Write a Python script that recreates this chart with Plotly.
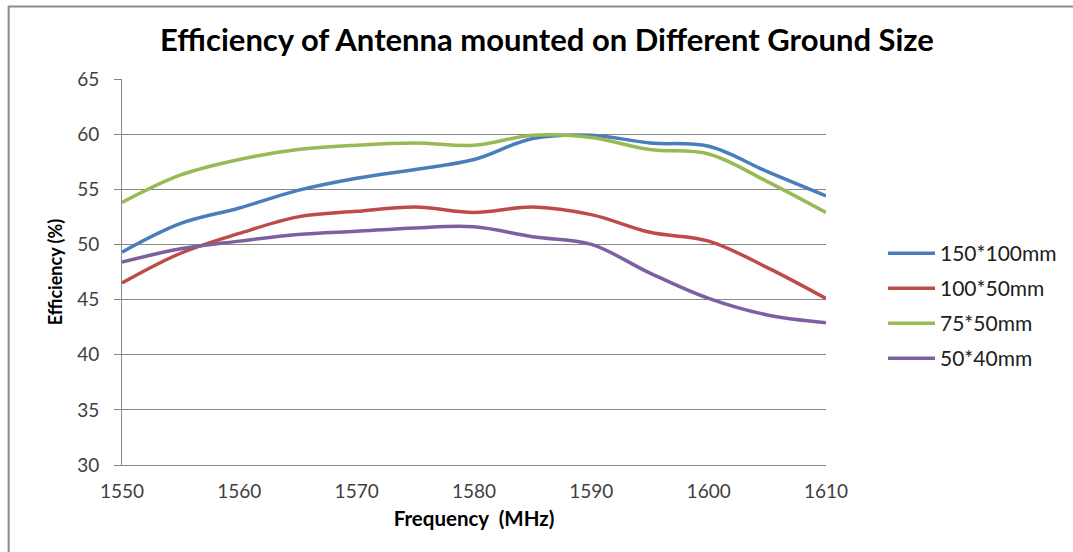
import plotly.graph_objects as go

freq = [1550, 1555, 1560, 1565, 1570, 1575, 1580, 1585, 1590, 1595, 1600, 1605, 1610]
eff_150x100 = [49.3, 51.9, 53.3, 54.9, 56.0, 56.8, 57.7, 59.6, 59.9, 59.2, 58.9, 56.6, 54.4]
eff_100x50 = [46.5, 49.2, 51.0, 52.5, 53.0, 53.4, 52.9, 53.4, 52.7, 51.1, 50.3, 47.9, 45.1]
eff_75x50 = [53.8, 56.3, 57.7, 58.6, 59.0, 59.2, 59.0, 59.9, 59.7, 58.6, 58.2, 55.7, 52.9]
eff_50x40 = [48.4, 49.6, 50.3, 50.9, 51.2, 51.5, 51.6, 50.7, 50.0, 47.4, 45.1, 43.6, 42.9]

series_names = ["150*100mm", "100*50mm", "75*50mm", "50*40mm"]
series_values = [eff_150x100, eff_100x50, eff_75x50, eff_50x40]
colors = ["#4A7EBB", "#BE4B48", "#98B954", "#7D60A0"]

x_ticks = [1550, 1560, 1570, 1580, 1590, 1600, 1610]
y_ticks = [30, 35, 40, 45, 50, 55, 60, 65]

FONT = "Lato"
fig = go.Figure()
for i, (name, vals, col) in enumerate(zip(series_names, series_values, colors)):
    fig.add_trace(go.Scatter(
        x=freq, y=vals, name=name, mode="lines",
        line=dict(color=col, width=3.5, shape="spline", smoothing=1.0),
        legendgroup=f"g{i}",
    ))

W, H = 1073, 552
L, R, T, B = 122, W - 827, 79, H - 465

fig.update_layout(
    width=W, height=H,
    margin=dict(l=L, r=R, t=T, b=B, pad=0),
    paper_bgcolor="white", plot_bgcolor="white",
    font=dict(family=FONT, color="#404040", size=19),
    title=dict(text="<b>Efficiency of Antenna mounted on Different Ground Size</b>",
               x=547 / W, xanchor="center", y=1 - 40 / H, yanchor="middle",
               font=dict(size=31, color="#000000", family=FONT)),
    showlegend=True,
    legend=dict(x=(883 - L) / (W - L - R), xanchor="left", y=(H - B - 233) / (H - T - B), yanchor="top",
                font=dict(size=21, color="#202020", family=FONT),
                tracegroupgap=4.7, itemwidth=47, bgcolor="rgba(0,0,0,0)"),
    xaxis=dict(range=[1550, 1610], tickvals=x_ticks, showgrid=False, zeroline=False,
               showline=True, linecolor="#878787", linewidth=1, ticks="",
               ticklabelstandoff=9, tickfont=dict(size=19, color="#404040"),
               title=dict(text="<b>Frequency  (MHz)</b>", standoff=10,
                          font=dict(size=20.5, color="#000000"))),
    yaxis=dict(range=[30, 65], tickvals=y_ticks, showgrid=True, gridcolor="#878787",
               gridwidth=1, zeroline=False, showline=True, linecolor="#878787", linewidth=1,
               ticks="outside", ticklen=7, tickcolor="#878787",
               ticklabelstandoff=11, tickfont=dict(size=19, color="#404040"),
               title=dict(text="<b>Efficiency (%)</b>", standoff=9,
                          font=dict(size=18, color="#000000"))),
)

fig.add_shape(type="rect", xref="paper", yref="paper",
              x0=(8.5 - L) / (W - L - R), x1=(W + 5 - L) / (W - L - R),
              y0=-(B + 5) / (H - T - B), y1=1 + (T - 6.5) / (H - T - B),
              line=dict(color="#8C8C8C", width=2), layer="below")

fig.write_html("out.html")
